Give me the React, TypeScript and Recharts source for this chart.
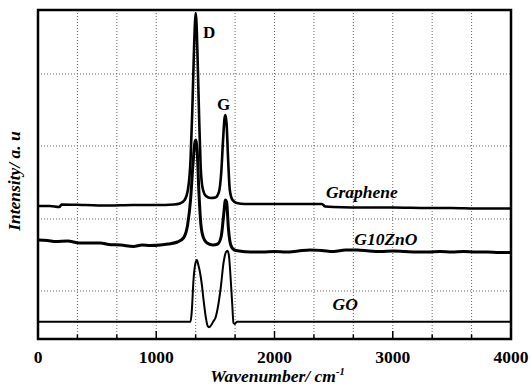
import React from 'react';
import { LineChart, Line, XAxis, YAxis, CartesianGrid, ReferenceArea, ReferenceDot } from 'recharts';

// ---- data (intensity in arbitrary units) ----
const grapheneWavenumber = [0, 100, 180, 200, 400, 600, 800, 1000, 1150, 1200, 1240, 1270, 1290, 1305, 1318, 1328, 1334, 1340, 1350, 1362, 1375, 1392, 1420, 1460, 1500, 1530, 1550, 1565, 1578, 1586, 1595, 1608, 1622, 1645, 1680, 1750, 2000, 2200, 2400, 2430, 2500, 2800, 3000, 3300, 3500, 3700, 4000];
const grapheneIntensity = [133, 133, 132, 134.5, 134, 133.5, 134, 134, 134.5, 135.5, 139, 151, 179, 229, 284, 317, 326, 317, 279, 224, 174, 151, 143, 141, 141.5, 147, 167, 199, 221, 224, 215, 179, 149, 139, 136, 135, 135, 135, 135, 132.5, 132, 131.5, 131.5, 131, 131, 130.5, 130.5];

const g10znoWavenumber = [0, 80, 150, 250, 350, 450, 527, 600, 700, 807, 880, 950, 1035, 1100, 1180, 1230, 1265, 1290, 1310, 1326, 1336, 1346, 1360, 1378, 1400, 1430, 1480, 1520, 1550, 1570, 1585, 1595, 1610, 1630, 1660, 1700, 1800, 1900, 2000, 2100, 2200, 2300, 2400, 2500, 2600, 2700, 2800, 2900, 3000, 3100, 3200, 3300, 3400, 3500, 3600, 3700, 3800, 3900, 4000];
const g10znoIntensity = [99, 98.5, 97.5, 98, 96, 96, 96, 94.5, 94, 92.5, 94, 93.5, 94, 95, 97, 101, 114, 139, 174, 196, 199, 189, 149, 114, 101, 96, 94, 95, 103, 124, 139, 137, 111, 94, 89, 88, 87, 87, 87.5, 87, 88, 89, 88.5, 87.5, 89, 89, 88, 87.5, 88, 87.5, 87, 87, 87.5, 87, 87.5, 87, 87, 86.5, 86.5];

const goWavenumber = [0, 1290, 1300, 1315, 1330, 1344, 1356, 1366, 1386, 1400, 1420, 1435, 1448, 1465, 1485, 1500, 1520, 1545, 1570, 1590, 1603, 1615, 1630, 1643, 1653, 1665, 1682, 4000];
const goIntensity = [17.3, 17.3, 27, 59, 75, 79, 74, 69, 54, 39, 21, 13, 11.7, 14, 18, 21, 31, 51, 77, 87, 88.3, 83, 59, 34, 16, 15, 17.3, 17.3];

const xTicks = [0, 333.33, 666.67, 1000, 1333.33, 1666.67, 2000, 2333.33, 2666.67, 3000, 3333.33, 3666.67, 4000];
const yGridValues = [48, 120, 193, 265];

const seriesLabels = ['Graphene', 'G10ZnO', 'GO'];
const peakLabels = ['D', 'G'];

// annotation anchor positions (data coordinates)
const seriesLabelPos = [
  { w: 2739, v: 141.3 },
  { w: 2942, v: 94 },
  { w: 2598, v: 29 },
];
const peakLabelPos = [
  { w: 1448, v: 300.7 },
  { w: 1569, v: 229 },
];

const toPoints = (w: number[], v: number[]) => w.map((x, i) => ({ w: x, v: v[i] }));
const grapheneData = toPoints(grapheneWavenumber, grapheneIntensity);
const g10znoData = toPoints(g10znoWavenumber, g10znoIntensity);
const goData = toPoints(goWavenumber, goIntensity);

const FONT = 'Liberation Serif';

const XTick = (props: any) => {
  const { x, y, payload } = props;
  const v = payload.value;
  const major = Math.abs(v / 1000 - Math.round(v / 1000)) < 1e-3;
  return (
    <g>
      <line x1={x} y1={y} x2={x} y2={y - (major ? 8 : 4.5)} stroke="#000" strokeWidth={1.5} />
      {major && (
        <text x={x} y={y + 24} textAnchor="middle" fontFamily={FONT} fontWeight="bold" fontSize={17.5} fill="#000">
          {Math.round(v)}
        </text>
      )}
    </g>
  );
};

const EmptyTick = () => <g />;

const XTitle = (props: any) => {
  const vb = props.viewBox;
  const cx = vb.x + vb.width / 2 + 3;
  return (
    <text x={cx} y={vb.y + 42.5} textAnchor="middle" fontFamily={FONT} fontWeight="bold" fontStyle="italic" fontSize={17.5} fill="#000">
      Wavenumber/ cm
      <tspan fontSize={10.5} dy={-7}>-1</tspan>
    </text>
  );
};

const YTitle = () => {
  const x = 19.5;
  const y = 181;
  return (
    <text x={x} y={y} transform={`rotate(-90, ${x}, ${y})`} textAnchor="middle" fontFamily={FONT} fontWeight="bold" fontStyle="italic" fontSize={17.5} fill="#000">
      Intensity/ a. u
    </text>
  );
};

const makeTextShape = (text: string, italic: boolean, size: number) => (p: any) => (
  <text x={p.cx} y={p.cy} textAnchor="middle" fontFamily={FONT} fontWeight="bold" fontStyle={italic ? 'italic' : 'normal'} fontSize={size} fill="#000">
    {text}
  </text>
);

export default function App() {
  return (
    <div style={{ position: 'absolute', left: 0, top: 0, width: 531, height: 385, background: '#fff' }}>
      <LineChart width={531} height={385} margin={{ top: 10, right: 20, left: 0, bottom: 0 }}>
        <CartesianGrid stroke="#666" strokeDasharray="1 2" strokeWidth={1} />
        <XAxis
          type="number"
          dataKey="w"
          domain={[0, 4000]}
          ticks={xTicks}
          tick={<XTick />}
          tickLine={false}
          tickSize={0}
          tickMargin={0}
          axisLine={false}
          height={46}
          allowDataOverflow
          interval={0}
          label={{ content: <XTitle /> }}
        />
        <YAxis
          type="number"
          dataKey="v"
          domain={[0, 329]}
          ticks={yGridValues}
          tick={<EmptyTick />}
          tickLine={false}
          axisLine={false}
          width={38}
          interval={0}
          allowDataOverflow
          label={{ content: <YTitle /> }}
        />
        <Line data={grapheneData} dataKey="v" type="monotone" stroke="#000" strokeWidth={2.6} dot={false} isAnimationActive={false} />
        <Line data={g10znoData} dataKey="v" type="monotone" stroke="#000" strokeWidth={3} dot={false} isAnimationActive={false} />
        <Line data={goData} dataKey="v" type="monotone" stroke="#000" strokeWidth={2} dot={false} isAnimationActive={false} />
        <ReferenceArea x1={0} x2={4000} y1={0} y2={329} fill="none" stroke="#000" strokeWidth={2.5} ifOverflow="visible" />
        {seriesLabels.map((s, i) => (
          <ReferenceDot key={s} x={seriesLabelPos[i].w} y={seriesLabelPos[i].v} r={0} shape={makeTextShape(s, true, 17.5)} />
        ))}
        {peakLabels.map((s, i) => (
          <ReferenceDot key={s} x={peakLabelPos[i].w} y={peakLabelPos[i].v} r={0} shape={makeTextShape(s, false, 17)} />
        ))}
      </LineChart>
    </div>
  );
}
